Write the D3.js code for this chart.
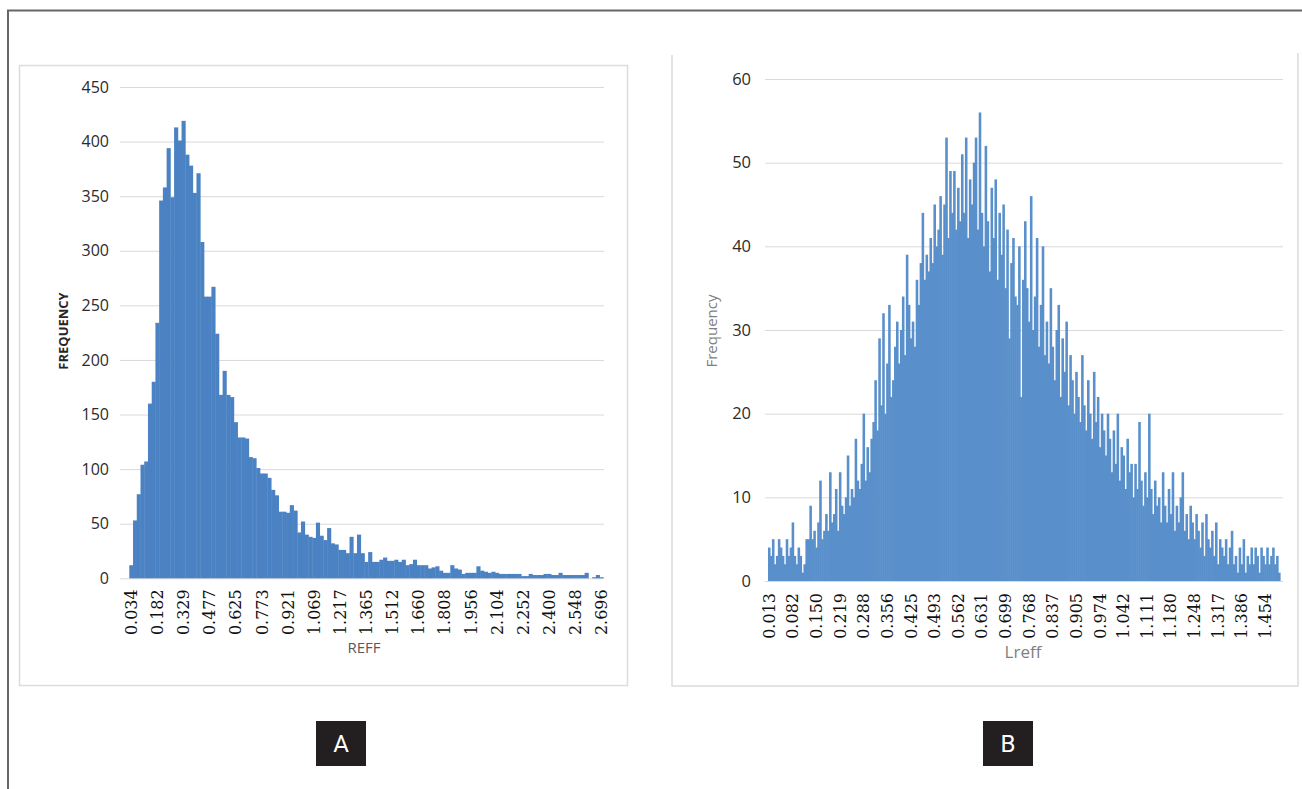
<!DOCTYPE html>
<html><head><meta charset="utf-8">
<script src="https://cdn.jsdelivr.net/npm/d3@7/dist/d3.min.js"></script>
<style>body{margin:0;background:#fff}svg{display:block}</style>
</head><body><svg id="c" width="1302" height="789"></svg>
<script>
// ---- Panel A: REFF histogram (127 bins, every 7th labelled) ----
const reffTickLabels = ["0.034","0.182","0.329","0.477","0.625","0.773","0.921","1.069","1.217","1.365","1.512","1.660","1.808","1.956","2.104","2.252","2.400","2.548","2.696"];
const reffCounts = [
 12,53,77,104,107,160,180,234,346,358,394,349,413,401,419,388,378,353,371,308,
 258,258,267,224,168,190,168,166,143,129,129,128,111,110,101,96,96,92,81,76,
 61,61,60,67,62,42,52,40,38,37,51,39,35,46,32,31,26,26,23,38,
 23,40,23,15,24,15,15,17,19,16,16,17,15,17,12,13,17,12,12,12,
 9,10,11,7,5,5,12,9,8,4,5,5,5,11,7,6,5,6,5,4,
 4,4,4,4,4,2,2,4,3,3,3,4,4,3,3,5,3,3,3,3,
 3,3,5,0,1,3,1];
const reffYTicks = [0,50,100,150,200,250,300,350,400,450];

// ---- Panel B: Lreff histogram (260 bins, every 12th labelled) ----
const lreffTickLabels = ["0.013","0.082","0.150","0.219","0.288","0.356","0.425","0.493","0.562","0.631","0.699","0.768","0.837","0.905","0.974","1.042","1.111","1.180","1.248","1.317","1.386","1.454"];
const lreffCounts = [
 4,3,5,2,3,5,4,3,2,5,3,4,7,3,2,4,3,1,2,5,
 5,9,5,6,4,7,12,5,6,8,
 6,13,7,8,11,6,13,9,8,10,15,9,11,
 10,17,12,11,14,20,12,16,13,17,
 19,24,18,29,21,32,20,26,33,22,
 24,28,31,26,30,34,27,39,33,29,31,28,36,
 33,38,44,36,39,37,41,38,45,40,42,46,39,45,53,
 41,49,44,49,42,47,43,51,44,53,41,48,45,50,53,42,56,44,
 40,52,43,37,47,41,48,36,44,39,45,35,42,29,38,41,34,
 33,40,22,36,43,35,31,46,30,34,41,28,33,40,27,
 31,26,35,28,24,30,33,22,29,25,31,21,27,24,20,
 25,22,19,27,21,18,24,20,17,25,19,22,16,20,18,
 15,20,17,13,18,14,20,12,16,15,11,17,13,14,10,
 14,11,19,12,9,13,10,20,11,8,12,9,10,7,13,
 9,7,11,8,13,6,9,7,10,13,6,8,5,9,7,
 5,8,6,4,7,3,8,5,4,6,3,7,2,5,4,
 3,5,2,4,6,2,3,1,4,2,5,1,3,2,4,
 2,4,3,1,4,3,2,4,2,3,4,2,3,1];
const lreffYTicks = [0,10,20,30,40,50,60];

const svg = d3.select("#c");
svg.append("rect").attr("width",1302).attr("height",789).attr("fill","#fff");

// outer frame (left + top visible)
svg.append("path").attr("d","M8,789 L8,10.5 L1302,10.5").attr("fill","none").attr("stroke","#666").attr("stroke-width",2);

// panel frames
svg.append("rect").attr("x",19.5).attr("y",65.5).attr("width",608).attr("height",620)
  .attr("fill","none").attr("stroke","#dcdcdc").attr("stroke-width",1.5);
svg.append("path").attr("d","M672,55 L672,686 L1298,686 L1298,53").attr("fill","none")
  .attr("stroke","#dcdcdc").attr("stroke-width",1.5);

const sansFont = "'Open Sans', 'DejaVu Sans', sans-serif";
const serifFont = "'DejaVu Serif', 'Liberation Serif', serif";

function drawHist(opts){
  const {counts, tickLabels, every, yTicks, yMax, x0, x1, yBottom, yTop, gridX0, gridX1, color, pad, labelPad, yFont} = opts;
  const idx = counts.map((d,i)=>i);
  const x = d3.scaleBand().domain(idx).range([x0,x1]).paddingInner(pad).paddingOuter(0);
  const y = d3.scaleLinear().domain([0,yMax]).range([yBottom,yTop]);

  // y axis with gridlines
  const ya = svg.append("g").attr("transform",`translate(${gridX0},0)`)
    .call(d3.axisLeft(y).tickValues(yTicks).tickSize(-(gridX1-gridX0)).tickPadding(labelPad).tickFormat(d3.format("d")));
  ya.select(".domain").remove();
  ya.selectAll("line").attr("stroke","#d9d9d9").attr("stroke-width",1);
  ya.selectAll("text").attr("font-family",sansFont).attr("font-size",yFont).attr("fill","#2b2b2b");

  // bars
  svg.append("g").selectAll("rect").data(counts).join("rect")
    .attr("x",(d,i)=>x(i)).attr("width",x.bandwidth()+opts.overlap)
    .attr("y",d=>y(d)).attr("height",d=>yBottom-y(d))
    .attr("fill",color);

  // x axis
  const tv = idx.filter(i=>i%every===0 && i/every < tickLabels.length);
  const xa = svg.append("g").attr("transform",`translate(0,${yBottom})`)
    .call(d3.axisBottom(x).tickValues(tv).tickSize(0).tickFormat(i=>tickLabels[i/every]));
  xa.select(".domain").remove();
  xa.selectAll("text")
    .attr("font-family",serifFont).attr("font-size",16).attr("fill","#111")
    .attr("y",0).attr("x",-opts.xLabelGap).attr("dy","0.36em")
    .attr("transform","rotate(-90)").style("text-anchor","end");
  return {x,y};
}

drawHist({counts:reffCounts, tickLabels:reffTickLabels, every:7, yTicks:reffYTicks, yMax:450,
  x0:129.3, x1:603.3, yBottom:578.3, yTop:87, gridX0:120, gridX1:604, color:"#4a82c3", pad:0, overlap:0.4,
  labelPad:11, yFont:16, xLabelGap:11});

drawHist({counts:lreffCounts, tickLabels:lreffTickLabels, every:12, yTicks:lreffYTicks, yMax:60,
  x0:768, x1:1280, yBottom:581, yTop:79, gridX0:765, gridX1:1283, color:"#5990cb", pad:0, overlap:0.6,
  labelPad:14, yFont:16.5, xLabelGap:12});

// axis titles
svg.append("text").attr("transform","translate(68,331) rotate(-90)").attr("text-anchor","middle")
  .attr("font-family",sansFont).attr("font-size",13).attr("font-weight","bold").attr("fill","#262626").text("FREQUENCY");
svg.append("text").attr("x",364).attr("y",653).attr("text-anchor","middle")
  .attr("font-family",sansFont).attr("font-size",15).attr("fill","#595959").text("REFF");
svg.append("text").attr("transform","translate(717,331) rotate(-90)").attr("text-anchor","middle")
  .attr("font-family",sansFont).attr("font-size",15).attr("fill","#7f7f7f").text("Frequency");
svg.append("text").attr("x",1023).attr("y",658).attr("text-anchor","middle")
  .attr("font-family",sansFont).attr("font-size",17).attr("fill","#7f7f7f").text("Lreff");

// panel letters
const panels = [{t:"A", x:316},{t:"B", x:983}];
panels.forEach(p=>{
  svg.append("rect").attr("x",p.x).attr("y",721).attr("width",50).attr("height",45).attr("fill","#231f20");
  svg.append("text").attr("x",p.x+25).attr("y",743.5).attr("dy","0.36em").attr("text-anchor","middle")
    .attr("font-family","'Liberation Sans Narrow', 'Roboto', sans-serif").attr("font-size",24)
    .attr("fill","#fff").text(p.t);
});
</script></body></html>
